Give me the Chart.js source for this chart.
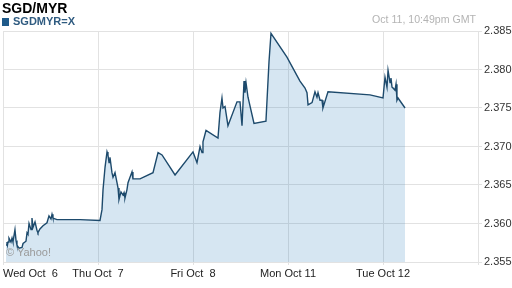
<!DOCTYPE html>
<html>
<head>
<meta charset="utf-8">
<script src="https://cdn.jsdelivr.net/npm/chart.js@4"></script>
<style>
html,body{margin:0;padding:0;background:#fff;}
#wrap{position:relative;width:512px;height:288px;font-family:"Liberation Sans",Arial,sans-serif;}
canvas{position:absolute;left:0;top:0;}
#title{position:absolute;left:2px;top:0px;font-size:14px;font-weight:bold;color:#000;}
#legend{position:absolute;left:2px;top:15px;font-size:11px;font-weight:bold;color:#2f5b80;line-height:12px;}
#legend span.sq{display:inline-block;width:7px;height:8px;background:#1f5a8a;margin-right:4px;vertical-align:-1px;}
#stamp{position:absolute;left:372px;top:13px;font-size:10.6px;color:#b4b4b4;}
#yahoo{position:absolute;left:6px;top:246px;font-size:11px;color:#9a9a9a;}
</style>
</head>
<body>
<div id="wrap">
<canvas id="c" width="512" height="288"></canvas>
<div id="title">SGD/MYR</div>
<div id="legend"><span class="sq"></span>SGDMYR=X</div>
<div id="stamp">Oct 11, 10:49pm GMT</div>
<div id="yahoo">© Yahoo!</div>
</div>
<script>
// time in trading days since Wed Oct 6 00:00
const times = [0.032,0.042,0.047,0.053,0.063,0.084,0.095,0.105,0.126,0.137,0.147,0.168,0.200,0.211,0.242,0.253,0.263,0.274,0.295,0.305,0.316,0.337,0.358,0.368,0.389,0.421,0.463,0.484,0.505,0.516,0.526,0.547,0.568,0.811,1.021,1.042,1.053,1.074,1.095,1.105,1.116,1.126,1.147,1.158,1.179,1.200,1.211,1.221,1.242,1.263,1.274,1.284,1.305,1.316,1.337,1.358,1.368,1.442,1.579,1.632,1.674,1.811,2.000,2.042,2.074,2.095,2.105,2.116,2.137,2.263,2.284,2.305,2.316,2.337,2.368,2.463,2.495,2.516,2.537,2.547,2.558,2.579,2.642,2.768,2.800,2.821,2.989,3.126,3.179,3.200,3.211,3.253,3.284,3.305,3.316,3.337,3.358,3.368,3.421,3.863,4.000,4.021,4.042,4.053,4.074,4.084,4.095,4.105,4.126,4.137,4.147,4.158,4.232];
const rates = [2.3572,2.3576,2.3572,2.3576,2.3581,2.3576,2.3581,2.3576,2.3592,2.3578,2.3572,2.3568,2.3569,2.3574,2.3577,2.3588,2.3586,2.3600,2.3592,2.3607,2.3595,2.3602,2.3591,2.3588,2.3593,2.3597,2.3601,2.3610,2.3606,2.3612,2.3607,2.3606,2.3605,2.3605,2.3604,2.3618,2.3644,2.3673,2.3693,2.3689,2.3679,2.3686,2.3666,2.3660,2.3666,2.3653,2.3646,2.3631,2.3641,2.3637,2.3640,2.3633,2.3644,2.3653,2.3660,2.3667,2.3658,2.3658,2.3666,2.3692,2.3689,2.3663,2.3693,2.3679,2.3700,2.3692,2.3706,2.3711,2.3721,2.3711,2.3744,2.3763,2.3750,2.3752,2.3727,2.3758,2.3758,2.3727,2.3785,2.3770,2.3783,2.3764,2.3730,2.3733,2.3810,2.3847,2.3816,2.3785,2.3776,2.3770,2.3754,2.3757,2.3771,2.3764,2.3770,2.3760,2.3760,2.3750,2.3771,2.3767,2.3763,2.3790,2.3777,2.3799,2.3783,2.3789,2.3777,2.3776,2.3773,2.3781,2.3760,2.3763,2.3750];
const dayLabels = ["Wed Oct  6","Thu Oct  7","Fri Oct  8","Mon Oct 11","Tue Oct 12",""];
const yMin = 2.355, yMax = 2.385, yStep = 0.005;

const pts = times.map((t,i)=>({x:t,y:rates[i]}));
new Chart(document.getElementById('c'),{
  type:'line',
  data:{datasets:[{
    data:pts,
    borderColor:'#1d4a6c',
    borderWidth:1.4,
    backgroundColor:'rgba(50,130,190,0.2)',
    fill:'start',
    pointRadius:0,
    tension:0
  }]},
  options:{
    responsive:false,
    devicePixelRatio:1,
    animation:false,
    layout:{padding:{left:3,top:31,right:0,bottom:0}},
    plugins:{legend:{display:false},tooltip:{enabled:false}},
    scales:{
      x:{
        type:'linear',min:0,max:5,
        afterFit:(s)=>{s.height=26;},
        ticks:{stepSize:1,autoSkip:false,maxRotation:0,align:'inner',padding:2,
          color:'#222',font:{family:'"Liberation Sans", Arial, sans-serif',size:11},
          callback:(v)=>dayLabels[Math.round(v)] ?? ''},
        grid:{color:'#e2e2e2',tickLength:3,lineWidth:1},
        border:{display:true,color:'#e2e2e2'}
      },
      y:{
        position:'right',min:yMin,max:yMax,
        afterFit:(s)=>{s.width=34;},
        ticks:{stepSize:yStep,padding:2,color:'#333',
          font:{family:'"Liberation Sans", Arial, sans-serif',size:11},
          callback:(v)=>v.toFixed(3)},
        grid:{color:'#e2e2e2',tickLength:4,lineWidth:1},
        border:{display:true,color:'#e2e2e2'}
      }
    }
  }
});
</script>
</body>
</html>
